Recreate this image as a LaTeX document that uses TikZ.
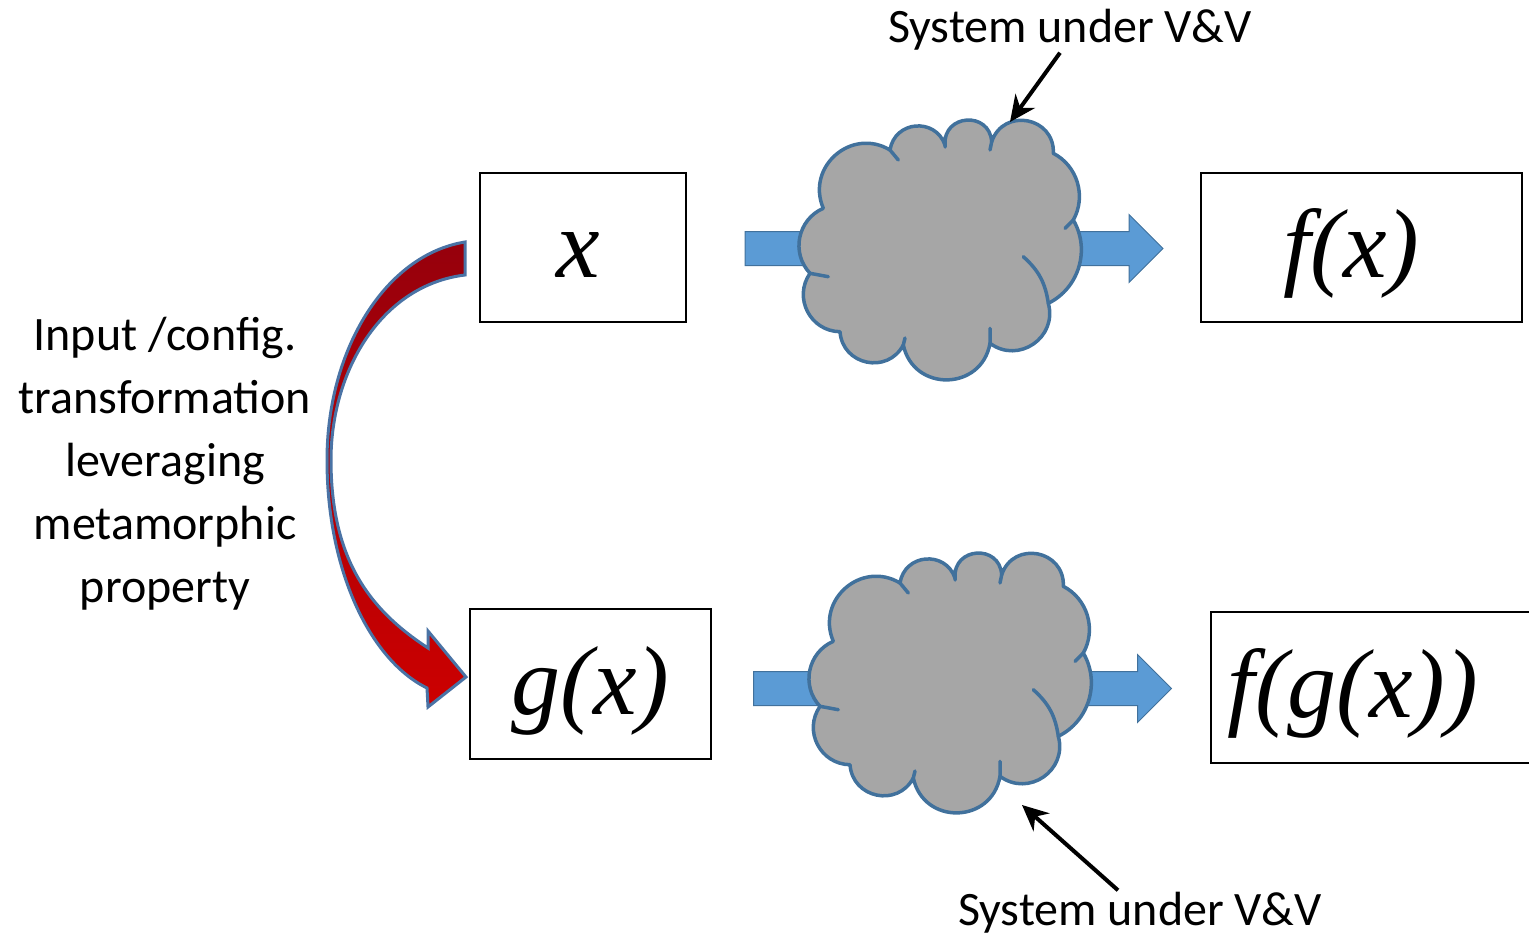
\documentclass[tikz,border=0pt]{standalone}
\usepackage{fontspec}
\setmainfont{Carlito}
\newfontfamily\fnserif{Liberation Serif}
\usetikzlibrary{shapes.arrows,arrows.meta}
\definecolor{flowblue}{RGB}{91,155,213}
\definecolor{edgeblue}{RGB}{65,113,156}
\definecolor{cloudgray}{RGB}{166,166,166}
\definecolor{darkred}{RGB}{150,0,12}
\definecolor{brightred}{RGB}{204,0,0}
\definecolor{rededge}{RGB}{74,115,165}
\tikzset{
  valbox/.style={draw=black, line width=2pt, minimum height=149pt, inner sep=0pt,
    font=\fnserif\itshape\fontsize{98}{100}\selectfont, text height=70pt, text depth=10pt},
  sut/.style={draw=edgeblue, fill=cloudgray, line width=3.5pt, line join=round},
  flow/.style={single arrow, draw=edgeblue, fill=flowblue, line width=1pt,
    minimum height=418pt, inner xsep=0pt, inner ysep=16.5pt, single arrow head extend=17pt},
  note/.style={font=\fontsize{48}{63}\selectfont, inner sep=2pt},
  pointer/.style={line width=4pt, -{Stealth[length=26pt,width=24pt]}},
  sutcloud/.pic={
    \path[sut] (-116.7,-41.7) to[bend right=55, looseness=1.08] (-130,23.3)
      to[bend right=62, looseness=1.16] (-100,81.7)
      to[bend right=74, looseness=1.33] (-36.7,95)
      to[bend right=79, looseness=1.43] (50,93.3)
      to[bend right=71, looseness=1.28] (108.3,53.3)
      to[bend right=47, looseness=1.01] (133.3,-30)
      to[bend right=46, looseness=1.0] (113.3,-96.7)
      to[bend right=82, looseness=1.49] (51.7,-108.3)
      to[bend right=90, looseness=1.7] (5,-105)
      to[bend right=76, looseness=1.37] (-50,-100)
      to[bend right=72, looseness=1.3] (-116.7,-41.7) -- cycle;
    % inner strokes of the puffs
    \draw[sut, fill=none, line cap=round] (-130,23.3) -- (-111.7,26.7)
      (-36.7,95) -- (-35,88) (50,78.3) -- (50,93.3) (133.3,-30) -- (125,-21.7)
      (51.7,-108.3) -- (50,-100) (5,-113) -- (5,-103) (-50,-100) -- (-41.7,-90);
    \draw[sut, fill=none, line cap=round] (83.3,6.7) to[bend left=20] (108.3,53.3);
    \coordinate (-top) at (70,-128);
    \coordinate (-bottom) at (72,122);
  }
}
\begin{document}
\begin{tikzpicture}[x=1pt,y=-1pt]
\useasboundingbox (0,0) rectangle (1529,937);
% inputs and outputs
\node[valbox, minimum width=206pt] (xbox) at (583,247.5) {x\rule{10pt}{0pt}};
\node[valbox, minimum width=321pt] (fxbox) at (1361.5,247.5) {f(x)\rule{20pt}{0pt}};
\node[valbox, minimum width=241pt, minimum height=150pt] (gxbox) at (590.5,684) {g(x)};
\node[valbox, minimum width=334pt, minimum height=151pt] (fgxbox) at (1378,687.5) {f(g(x))\rule{50pt}{0pt}};
% system under V&V, twice
\node[flow] (flowA) at (945.5,248.5) {};
\node[flow] (flowB) at (954,688.5) {};
\pic (cloudA) at (940,250) {sutcloud};
\pic (cloudB) at (950,683) {sutcloud};
\node[note] (sysA) at (1070,30) {System under V\&V};
\node[note] (sysB) at (1140,913) {System under V\&V};
\draw[pointer] ([xshift=-10pt]sysA.south) -- (cloudA-top);
\draw[pointer] ([xshift=-22pt]sysB.north) -- (cloudB-bottom);
% metamorphic transformation
\node[note, align=center] (meta) at (165,464) {Input /config.\\transformation\\leveraging\\metamorphic\\property};
\path[draw=rededge, line width=3pt, top color=darkred, bottom color=brightred]
  (465,242) .. controls (385,255) and (327,350) .. (327,460)
  .. controls (327,570) and (370,660) .. (427,688)
  -- (428,707) -- (466,677) -- (428,631) -- (428,648)
  .. controls (370,610) and (331,560) .. (331,460)
  .. controls (331,370) and (382,285) .. (465,275) -- cycle;
\end{tikzpicture}
\end{document}
